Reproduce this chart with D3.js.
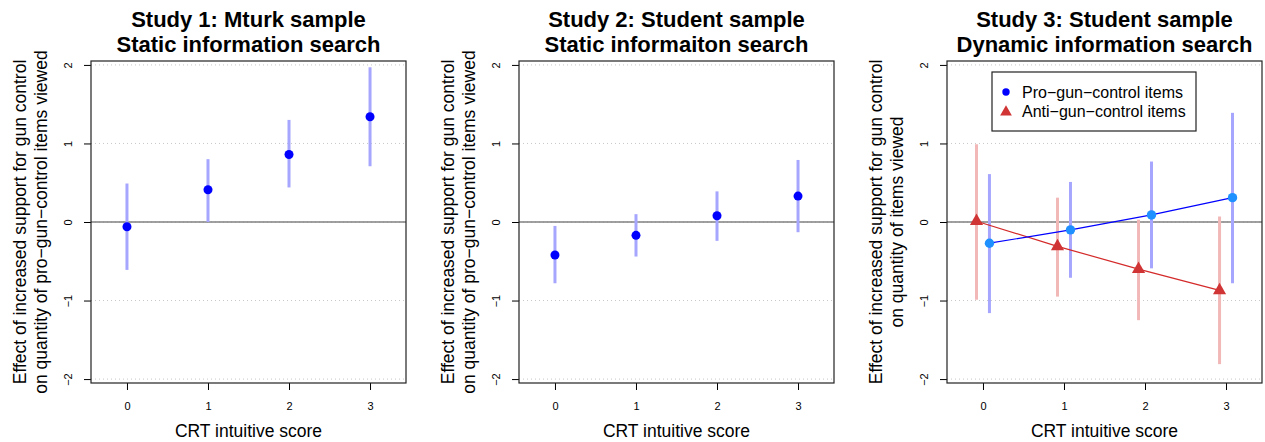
<!DOCTYPE html>
<html>
<head>
<meta charset="utf-8">
<script src="https://cdn.jsdelivr.net/npm/d3@7"></script>
<style>
  body { margin: 0; background: #fff; }
  text { font-family: "Liberation Sans", Arial, Helvetica, sans-serif; }
</style>
</head>
<body>
<svg width="1265" height="442"></svg>
<script>
// data
var crt = [0, 1, 2, 3];
var yTicks = [-2, -1, 0, 1, 2];

var s1Est = [-0.06, 0.41, 0.86, 1.34];
var s1Lo  = [-0.61, 0.00, 0.44, 0.71];
var s1Hi  = [ 0.49, 0.80, 1.30, 1.97];

var s2Est = [-0.42, -0.17, 0.08, 0.33];
var s2Lo  = [-0.78, -0.44, -0.24, -0.13];
var s2Hi  = [-0.05, 0.10, 0.39, 0.79];

var proEst = [-0.27, -0.10, 0.09, 0.31];
var proLo  = [-1.16, -0.71, -0.59, -0.78];
var proHi  = [ 0.61, 0.51, 0.77, 1.39];

var antiEst = [0.01, -0.31, -0.60, -0.87];
var antiLo  = [-0.99, -0.95, -1.25, -1.81];
var antiHi  = [ 0.99, 0.31, 0.03, 0.07];

var titles = [
  ["Study 1: Mturk sample", "Static information search"],
  ["Study 2: Student sample", "Static informaiton search"],
  ["Study 3: Student sample", "Dynamic information search"]
];
var yLabels = [
  ["Effect of increased support for gun control", "on quantity of pro\u2212gun\u2212control items viewed"],
  ["Effect of increased support for gun control", "on quantity of pro\u2212gun\u2212control items viewed"],
  ["Effect of increased support for gun control", "on quantity of items viewed"]
];
var legendLabels = ["Pro\u2212gun\u2212control items", "Anti\u2212gun\u2212control items"];

var svg = d3.select("svg"),
    w = 315, h = 322, plotTop = 61,
    lefts = [91, 519, 947];

var x = d3.scaleLinear().domain([-0.444, 3.444]).range([0, w]);
var y = d3.scaleLinear().domain([-2.05, 2.05]).range([h, 0]);

function panel(i) {
  var g = svg.append("g").attr("transform", "translate(" + lefts[i] + "," + plotTop + ")");

  // dotted grid
  g.selectAll(".grid").data(yTicks).enter().append("line")
    .attr("x1", 0).attr("x2", w)
    .attr("y1", function(d) { return y(d); }).attr("y2", function(d) { return y(d); })
    .attr("stroke", "#c8c8c8").attr("stroke-width", 1).attr("stroke-dasharray", "1,3");

  g.append("line").attr("x1", 0).attr("x2", w).attr("y1", y(0)).attr("y2", y(0))
    .attr("stroke", "#808080").attr("stroke-width", 1.6);

  var xa = g.append("g").attr("transform", "translate(0," + h + ")")
    .call(d3.axisBottom(x).tickValues(crt).tickSize(7).tickPadding(12).tickFormat(d3.format("d")));
  xa.attr("font-family", null);
  xa.select(".domain").remove();
  xa.selectAll("text").attr("font-size", 11).attr("fill", "#000");

  var ya = g.append("g")
    .call(d3.axisLeft(y).tickValues(yTicks).tickSize(7).tickFormat(function(d) { return d < 0 ? "\u2212" + (-d) : d; }));
  ya.attr("font-family", null);
  ya.select(".domain").remove();
  ya.selectAll("text").attr("font-size", 11).attr("fill", "#000")
    .attr("text-anchor", "middle").attr("x", null).attr("dy", null)
    .attr("transform", "translate(-19,0) rotate(-90)");

  g.append("rect").attr("width", w).attr("height", h)
    .attr("fill", "none").attr("stroke", "#222").attr("stroke-width", 1.2);

  var cx = w / 2;
  g.selectAll(".title").data(titles[i]).enter().append("text")
    .attr("x", cx).attr("y", function(d, k) { return 27 - plotTop + k * 25; })
    .attr("text-anchor", "middle").attr("font-size", 22).attr("font-weight", "bold")
    .text(function(d) { return d; });

  g.append("text").attr("x", cx).attr("y", 437 - plotTop)
    .attr("text-anchor", "middle").attr("font-size", 17.5).text("CRT intuitive score");

  g.selectAll(".ylab").data(yLabels[i]).enter().append("text")
    .attr("transform", function(d, k) { return "translate(" + (-65 + k * 21) + "," + (h / 2) + ") rotate(-90)"; })
    .attr("text-anchor", "middle").attr("font-size", 17.5)
    .text(function(d) { return d; });

  return g;
}

function ci(g, off, lo, hi, col) {
  g.selectAll(null).data(crt).enter().append("line")
    .attr("x1", function(d) { return x(d + off); }).attr("x2", function(d) { return x(d + off); })
    .attr("y1", function(d, k) { return y(lo[k]); }).attr("y2", function(d, k) { return y(hi[k]); })
    .attr("stroke", col).attr("stroke-width", 3);
}

function dots(g, off, est, col, r) {
  g.selectAll(null).data(crt).enter().append("circle")
    .attr("cx", function(d) { return x(d + off); })
    .attr("cy", function(d, k) { return y(est[k]); })
    .attr("r", r).attr("fill", col);
}

var p1 = panel(0);
ci(p1, 0, s1Lo, s1Hi, "#a6a6ff");
dots(p1, 0, s1Est, "#0000ff", 4.5);

var p2 = panel(1);
ci(p2, 0, s2Lo, s2Hi, "#a6a6ff");
dots(p2, 0, s2Est, "#0000ff", 4.5);

var p3 = panel(2);
var off = 0.08;
ci(p3, -off, antiLo, antiHi, "#f2b8b8");
ci(p3, off, proLo, proHi, "#a6a6ff");

var line = d3.line();
p3.append("path")
  .attr("d", line(crt.map(function(d, k) { return [x(d - off), y(antiEst[k])]; })))
  .attr("fill", "none").attr("stroke", "#d42a2a").attr("stroke-width", 1.2);
p3.append("path")
  .attr("d", line(crt.map(function(d, k) { return [x(d + off), y(proEst[k])]; })))
  .attr("fill", "none").attr("stroke", "#0000ff").attr("stroke-width", 1.2);

var tri = d3.symbol().type(d3.symbolTriangle).size(75);
p3.selectAll(null).data(crt).enter().append("path")
  .attr("d", tri)
  .attr("transform", function(d, k) { return "translate(" + x(d - off) + "," + y(antiEst[k]) + ")"; })
  .attr("fill", "#d03434");
dots(p3, off, proEst, "#1e90ff", 4.7);

// legend
var lg = p3.append("g").attr("transform", "translate(45,11)");
lg.append("rect").attr("width", 204).attr("height", 59)
  .attr("fill", "#fff").attr("stroke", "#222").attr("stroke-width", 1.2);
lg.append("circle").attr("cx", 14).attr("cy", 20).attr("r", 3.7).attr("fill", "#0000ff");
lg.append("path").attr("d", d3.symbol().type(d3.symbolTriangle).size(60))
  .attr("transform", "translate(14,40)").attr("fill", "#d03434");
lg.selectAll(".lt").data(legendLabels).enter().append("text")
  .attr("x", 30).attr("y", function(d, k) { return 25.5 + k * 19.5; })
  .attr("font-size", 16).text(function(d) { return d; });
</script>
</body>
</html>
